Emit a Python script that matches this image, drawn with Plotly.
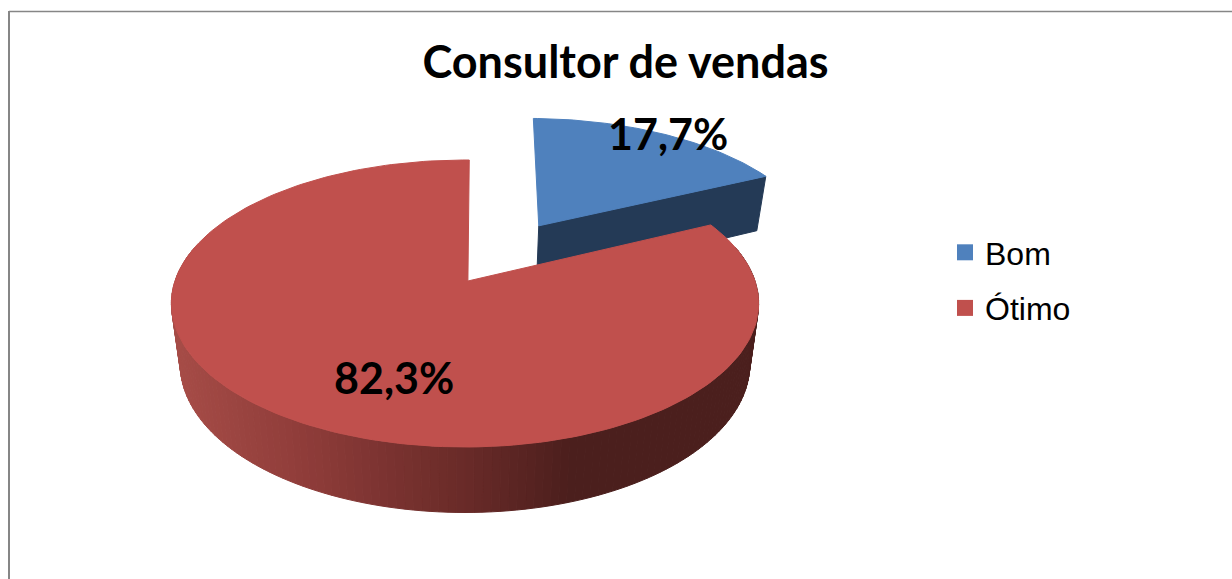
import numpy as np
import plotly.graph_objects as go

# ---- data ----
categories = ["Bom", "Ótimo"]
values = [17.7, 82.3]
chart_title = "Consultor de vendas"

# ---- style / projection constants ----
W, H = 1232, 579
BLUE, RED = "#4f81bd", "#c0504d"
BLUE_WALL = "#243a56"
RED_WALL_STOPS = [(175, (166, 76, 71)), (300, (144, 61, 58)), (470, (104, 42, 40)), (575, (75, 31, 29)), (760, (75, 31, 29))]
XC, R = 465.0, 290.0          # perspective map of the pie disc onto the page
Y0, YA, PC = 281.0, -95.9, 0.1568
BASE_SCALE, DZ_MID, DZ_TILT = 0.97, 59.5, -6.0
PULL = 0.5                    # exploded slice, fraction of the radius
ROTATION = 0.017              # first slice angle, radians
APEX_U = 0.01


def top(u, v):
    d = PC * v + 1
    return XC + R * u / d, (YA * v + Y0) / d


def bottom(u, v):
    x, y = top(u, v)
    return XC + BASE_SCALE * (x - XC), y + DZ_MID + DZ_TILT * v


def arc(a0, a1, n, ox=0.0, oy=0.0):
    th = np.linspace(a0, a1, n)
    return ox + np.sin(th), oy + np.cos(th)


def poly(x, y, color, **kw):
    return go.Scatter(x=list(x), y=list(y), mode="lines", fill="toself", fillcolor=color,
                      line=dict(color=color, width=1), hoverinfo="skip", showlegend=False, **kw)


def wall_color(x):
    xs = [s[0] for s in RED_WALL_STOPS]
    rgb = [np.interp(x, xs, [s[1][i] for s in RED_WALL_STOPS]) for i in range(3)]
    return "rgb(%d,%d,%d)" % tuple(rgb)


fig = go.Figure()
start = ROTATION
split = start + 2 * np.pi * values[0] / sum(values)   # slices run clockwise from 12 o'clock

# exploded slice
mid = (start + split) / 2
ox, oy = PULL * np.sin(mid), PULL * np.cos(mid)
apx, apy = ox, oy
ua, va = np.sin(split) + ox, np.cos(split) + oy
tx, ty = top(np.array([apx, ua]), np.array([apy, va]))
bx, by = bottom(np.array([apx, ua]), np.array([apy, va]))
fig.add_trace(poly([tx[0], tx[1], bx[1], bx[0], tx[0]], [ty[0], ty[1], by[1], by[0], ty[0]], BLUE_WALL))
u, v = arc(start, split, 60, ox, oy)
tx, ty = top(u, v)
ax, ay = top(apx, apy)
fig.add_trace(poly(np.r_[ax, tx, ax], np.r_[ay, ty, ay], BLUE))

# rim of the large slice: narrow strips so its shading can vary across the page
edges = np.linspace(np.pi * 0.42, np.pi * 1.58, 141)
for a0, a1 in zip(edges[:-1], edges[1:]):
    u, v = arc(a0, a1, 3)
    tx, ty = top(u, v)
    bx, by = bottom(u, v)
    fig.add_trace(poly(np.r_[tx, bx[::-1], tx[0]], np.r_[ty, by[::-1], ty[0]], wall_color(tx.mean())))
u, v = arc(split, start + 2 * np.pi, 200)
tx, ty = top(u, v)
ax, ay = top(APEX_U, 0.0)
fig.add_trace(poly(np.r_[ax, tx, ax], np.r_[ay, ty, ay], RED))

# legend entries
for name, color in zip(categories, [BLUE, RED]):
    fig.add_trace(go.Scatter(x=[None], y=[None], mode="markers", name=name, legendgroup=name,
                             marker=dict(symbol="square", size=17, color=color)))

label_font = dict(family="Lato", size=43, color="black", weight="bold")
fig.add_annotation(x=668, y=133, text=f"{values[0]:.1f}%".replace(".", ","), showarrow=False, font=label_font)
fig.add_annotation(x=394, y=377, text=f"{values[1]:.1f}%".replace(".", ","), showarrow=False, font=label_font)

fig.update_layout(
    width=W, height=H, autosize=False,
    margin=dict(l=0, r=0, t=0, b=0),
    paper_bgcolor="white", plot_bgcolor="white",
    title=dict(text=chart_title, x=625.5 / W, xanchor="center", y=1 - 62 / H, yanchor="middle",
               font=dict(family="Lato", size=45, color="black", weight="bold")),
    xaxis=dict(range=[0, W], visible=False, fixedrange=True),
    yaxis=dict(range=[H, 0], visible=False, fixedrange=True),
    legend=dict(x=945 / W, xanchor="left", y=1 - 225 / H, yanchor="top", tracegroupgap=11,
                font=dict(family="Liberation Sans", size=32, color="black"), bgcolor="rgba(0,0,0,0)"),
    shapes=[
        dict(type="line", xref="x", yref="y", x0=9, x1=W, y0=11.5, y1=11.5, line=dict(color="#868686", width=1.5)),
        dict(type="line", xref="x", yref="y", x0=9, x1=9, y0=11, y1=H, line=dict(color="#868686", width=2)),
    ],
)
fig.write_html("out.html", config=dict(displayModeBar=False),
               post_script="document.body.style.margin='0';document.documentElement.style.overflow='hidden';")
